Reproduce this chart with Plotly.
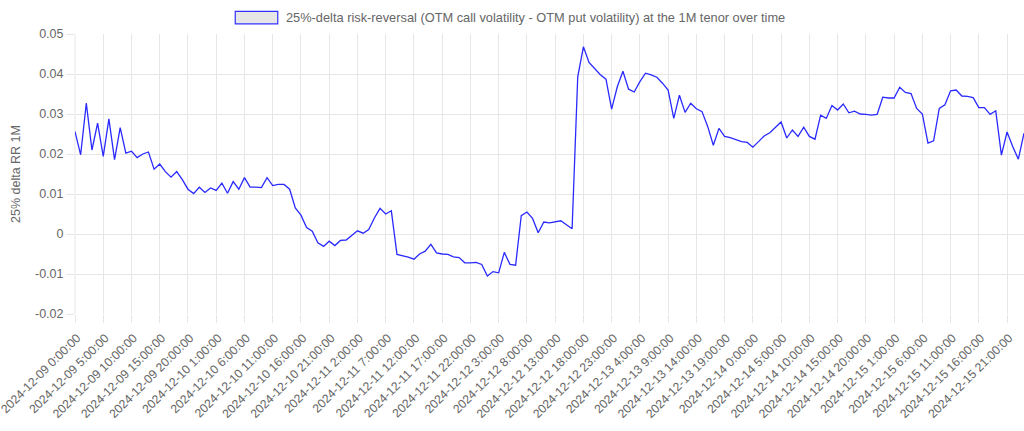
import pandas as pd
import plotly.graph_objects as go

# hourly 25%-delta risk reversal, 1M tenor
start = '2024-12-09 00:00'
rr_1m = [
    0.0256, 0.0198, 0.0327, 0.0210, 0.0277, 0.0194, 0.0288, 0.0186, 0.0266, 0.0202,
    0.0207, 0.0191, 0.0200, 0.0205, 0.0162, 0.0175, 0.0156, 0.0142, 0.0156, 0.0136,
    0.0112, 0.0101, 0.0117, 0.0104, 0.0115, 0.0109, 0.0127, 0.0102, 0.0131, 0.0112,
    0.0141, 0.0117, 0.0117, 0.0116, 0.0141, 0.0121, 0.0124, 0.0124, 0.0112, 0.0065,
    0.0047, 0.0016, 0.0007, -0.0022, -0.0031, -0.0018, -0.0029, -0.0016, -0.0015, -0.0004,
    0.0008, 0.0002, 0.0011, 0.0040, 0.0064, 0.0050, 0.0058, -0.0051, -0.0054, -0.0058,
    -0.0063, -0.0050, -0.0043, -0.0026, -0.0047, -0.0050, -0.0051, -0.0057, -0.0059, -0.0072,
    -0.0072, -0.0071, -0.0076, -0.0105, -0.0094, -0.0097, -0.0046, -0.0076, -0.0078, 0.0046,
    0.0055, 0.0039, 0.0003, 0.0030, 0.0028, 0.0031, 0.0033, 0.0023, 0.0013, 0.0393,
    0.0468, 0.0429, 0.0414, 0.0398, 0.0387, 0.0312, 0.0368, 0.0407, 0.0362, 0.0355,
    0.0381, 0.0402, 0.0398, 0.0392, 0.0377, 0.0360, 0.0289, 0.0347, 0.0304, 0.0327,
    0.0313, 0.0306, 0.0269, 0.0222, 0.0264, 0.0244, 0.0241, 0.0236, 0.0231, 0.0229,
    0.0217, 0.0231, 0.0245, 0.0253, 0.0266, 0.0280, 0.0240, 0.0260, 0.0244, 0.0267,
    0.0244, 0.0237, 0.0297, 0.0289, 0.0321, 0.0310, 0.0325, 0.0303, 0.0307, 0.0300,
    0.0299, 0.0297, 0.0299, 0.0342, 0.0340, 0.0340, 0.0367, 0.0354, 0.0351, 0.0314,
    0.0300, 0.0227, 0.0233, 0.0314, 0.0323, 0.0358, 0.0360, 0.0345, 0.0344, 0.0341,
    0.0316, 0.0316, 0.0299, 0.0308, 0.0197, 0.0255, 0.0219, 0.0187, 0.0252,
]
y_ticks = [-0.02, -0.01, 0, 0.01, 0.02, 0.03, 0.04, 0.05]
y_labels = ['-0.02', '-0.01', '0', '0.01', '0.02', '0.03', '0.04', '0.05']
legend_text = '25%-delta risk-reversal (OTM call volatility - OTM put volatility) at the 1M tenor over time'
y_title = '25% delta RR 1M'

dates = pd.date_range(start, periods=len(rr_1m), freq='h')
labels = [f'{d:%Y-%m-%d} {d.hour}:00:00' for d in dates]
df = pd.DataFrame({'time': labels, 'rr': rr_1m})

W, H = 1024, 431
L, R, T, B = 75.3, 1024, 33.7, 314.3
grey = '#666666'
grid = '#e6e6e6'
font = 'Liberation Sans, Arial, sans-serif'


def px_x(x):
    return (x - L) / (R - L)


def px_y(y):
    return (B - y) / (B - T)


fig = go.Figure()
fig.add_trace(go.Scatter(x=df['time'], y=df['rr'], mode='lines',
                         line=dict(color='#2a2aff', width=1.3),
                         showlegend=False, hoverinfo='x+y'))

fig.update_layout(
    width=W, height=H,
    margin=dict(l=L, r=W - R, t=T, b=H - B, autoexpand=False),
    plot_bgcolor='white', paper_bgcolor='white',
    font=dict(family=font, size=12, color=grey),
    showlegend=False,
    xaxis=dict(type='category', range=[0, len(rr_1m) - 1],
               tickvals=labels[::5], ticktext=labels[::5], tickangle=-45,
               showgrid=True, gridcolor=grid, gridwidth=1,
               ticks='outside', ticklen=8, tickcolor=grid,
               ticklabelstandoff=3, ticklabelshift=2,
               showline=False, zeroline=False, automargin=False,
               tickfont=dict(size=12.2, color=grey)),
    yaxis=dict(range=[-0.02, 0.05], tickvals=y_ticks, ticktext=y_labels,
               showgrid=True, gridcolor=grid, gridwidth=1,
               ticks='outside', ticklen=8, tickcolor=grid,
               showline=False, zeroline=False, automargin=False,
               title=dict(text=y_title, font=dict(size=12.5, color=grey), standoff=11),
               tickfont=dict(size=12.5, color=grey)),
)
# left border of the plot (chart.js draws the first grid line)
fig.add_shape(type='line', xref='paper', yref='paper', x0=0, x1=0, y0=0, y1=1,
              line=dict(color=grid, width=1), layer='below')

# chart.js style legend box + text
fig.add_shape(type='rect', xref='paper', yref='paper',
              x0=px_x(235.5), x1=px_x(278), y0=px_y(23.5), y1=px_y(11),
              fillcolor='#e6e6e6', line=dict(color='#3030ff', width=1.2))
fig.add_annotation(x=px_x(284), y=px_y(17), xref='paper', yref='paper',
                   text=legend_text, showarrow=False, xanchor='left', yanchor='middle',
                   font=dict(family=font, size=12.8, color=grey))

# page body has an 8px default margin; drop it so the figure sits at the window corner
fig.write_html('out.html', config={'displayModeBar': False},
               post_script="document.body.style.margin='0';")
